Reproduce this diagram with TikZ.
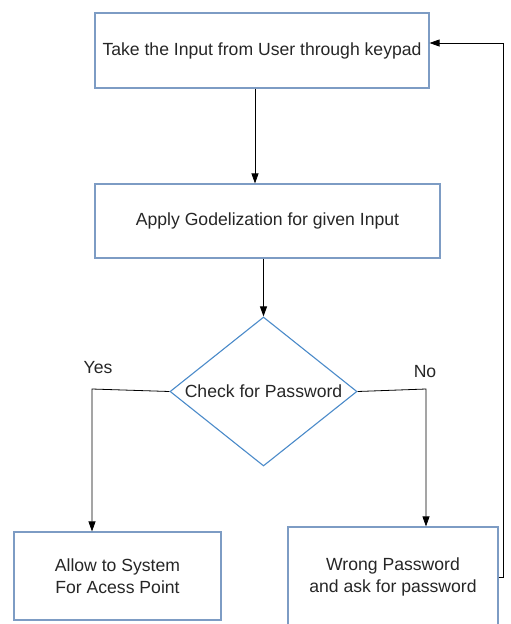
\documentclass[tikz,border=0pt]{standalone}
\usepackage{fontspec}
\setmainfont{Liberation Sans}
\usetikzlibrary{shapes.geometric,arrows.meta}
\definecolor{boxline}{HTML}{7D9CC4}
\definecolor{dialine}{HTML}{4A8AC9}
\definecolor{txt}{HTML}{262626}
\tikzset{
  procbox/.style={draw=boxline, line width=1.1pt, rectangle, inner sep=0pt, align=center, text=txt, font=\fontsize{17.6}{21.5}\selectfont},
  decision/.style={draw=dialine, line width=1.1pt, diamond, aspect=1.25, inner sep=0pt, text=txt, font=\fontsize{17.6}{21.5}\selectfont},
  lbl/.style={text=txt, font=\fontsize{17.6}{21.5}\selectfont, inner sep=0pt},
  arr/.style={draw=black, line width=0.8pt, -{Triangle[width=7pt,length=10pt]}}
}
\begin{document}
\begin{tikzpicture}[x=1pt,y=-1pt]
\useasboundingbox (0,0) rectangle (511,624);
\node[procbox, minimum width=334pt, minimum height=75pt] (b1) at (262,50.5) {Take the Input from User through keypad};
\node[procbox, minimum width=345pt, minimum height=74pt] (b2) at (267.5,221) {Apply Godelization for given Input};
\node[decision, minimum width=187pt, minimum height=149pt] (d) at (263.5,391.5) {Check for Password};
\node[procbox, minimum width=207pt, minimum height=88pt] (b3) at (117.5,576) {Allow to System\\For Acess Point};
\node[procbox, minimum width=210pt, minimum height=100pt] (b4) at (393,577) {Wrong Password\\and ask for password};
\node[lbl] (yes) at (98,368) {Yes};
\node[lbl] (no) at (425,372) {No};
\coordinate (yc) at (92,389);
\coordinate (nc) at (426,389);
\coordinate (fb) at (503,43);
\draw[arr] ([xshift=-7pt]b1.south) -- ([xshift=-7pt]b1.south |- b2.north);
\draw[arr] (b2.south -| d.north) -- (d.north);
\draw[arr] (d.west) -- (yc) -- (yc |- b3.north);
\draw[arr] (d.east) -- (nc) -- (nc |- b4.north);
\draw[arr] (b4.east) -- (b4.east -| fb) -- (fb) -- (fb -| b1.east);
\end{tikzpicture}
\end{document}
